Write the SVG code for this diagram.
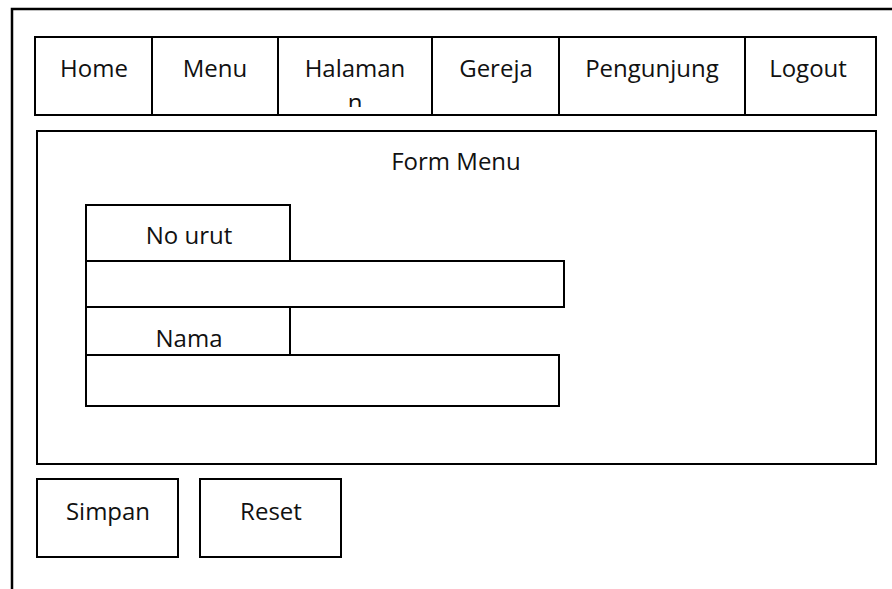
<svg xmlns="http://www.w3.org/2000/svg" width="892" height="589" viewBox="0 0 892 589">
<style>
.b{fill:#fff;stroke:#000;stroke-width:2}
.t{font-family:"Open Sans","Liberation Sans",sans-serif;font-size:24px;fill:#111;text-anchor:middle}
</style>
<defs><clipPath id="navclip"><rect x="278" y="37" width="154" height="70"/></clipPath></defs>
<rect width="892" height="589" fill="#fff"/>
<g id="frame"><path d="M12 589 V9 H892" fill="none" stroke="#000" stroke-width="2.5"/></g>
<g id="nav">
<g id="nav-home"><rect class="b" x="35" y="37" width="117" height="78"/><text class="t" x="94" y="77">Home</text></g>
<g id="nav-menu"><rect class="b" x="152" y="37" width="126" height="78"/><text class="t" x="215" y="77">Menu</text></g>
<g id="nav-halaman"><rect class="b" x="278" y="37" width="154" height="78"/><text class="t" x="355" y="77">Halaman</text><text class="t" x="355" y="111" clip-path="url(#navclip)">n</text></g>
<g id="nav-gereja"><rect class="b" x="432" y="37" width="127" height="78"/><text class="t" x="496" y="77">Gereja</text></g>
<g id="nav-pengunjung"><rect class="b" x="559" y="37" width="186" height="78"/><text class="t" x="652" y="77">Pengunjung</text></g>
<g id="nav-logout"><rect class="b" x="745" y="37" width="131" height="78"/><text class="t" x="808" y="77">Logout</text></g>
</g>
<g id="form-panel"><rect class="b" x="37" y="131" width="839" height="333" stroke-width="1.6"/><text class="t" x="456" y="170">Form Menu</text></g>
<g id="label-nourut"><rect class="b" x="86" y="205" width="204" height="56"/><text class="t" x="189" y="244">No urut</text></g>
<g id="input-nourut"><rect class="b" x="86" y="261" width="478" height="46"/></g>
<g id="label-nama"><rect class="b" x="86" y="307" width="204" height="48"/><text class="t" x="189" y="347">Nama</text></g>
<g id="input-nama"><rect class="b" x="86" y="355" width="473" height="51"/></g>
<g id="btn-simpan"><rect class="b" x="37" y="479" width="141" height="78" stroke-width="1.6"/><text class="t" x="108" y="520">Simpan</text></g>
<g id="btn-reset"><rect class="b" x="200" y="479" width="141" height="78" stroke-width="1.6"/><text class="t" x="271" y="520">Reset</text></g>
<g id="connectors"/>
</svg>
